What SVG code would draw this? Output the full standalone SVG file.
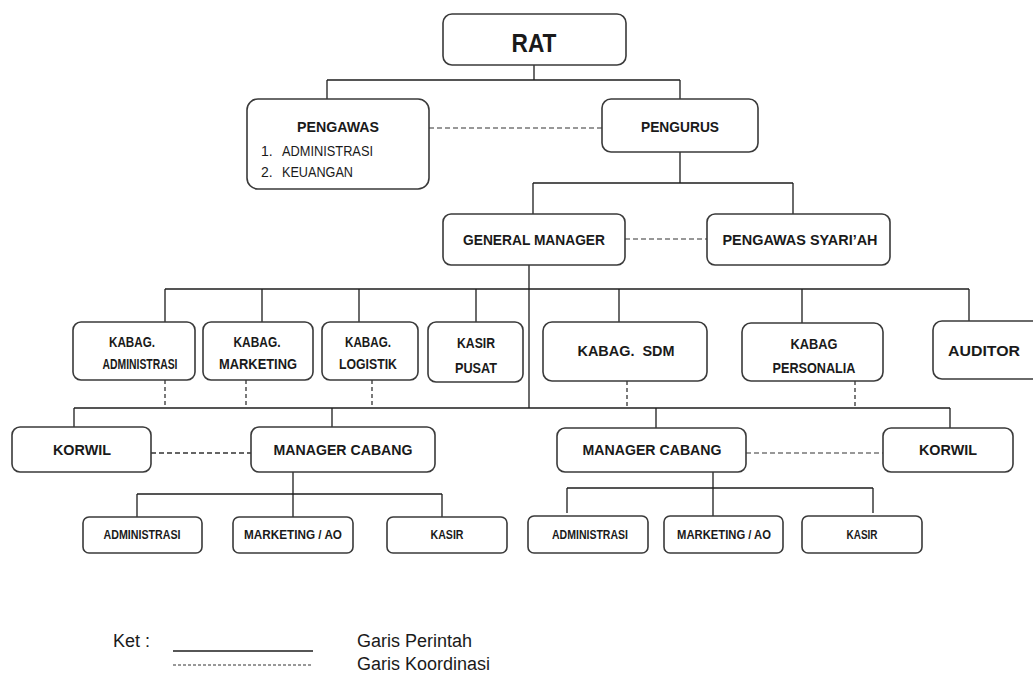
<svg xmlns="http://www.w3.org/2000/svg" width="1033" height="682" viewBox="0 0 1033 682">
<style>
.box{fill:#fff;stroke:#3a3a3a;stroke-width:1.6}
.ln{fill:none;stroke:#1e1e1e;stroke-width:1.3}
.dl{fill:none;stroke:#777;stroke-width:1.6;stroke-dasharray:5 3}
.dk{fill:none;stroke:#333;stroke-width:1.4;stroke-dasharray:5 3}
.dv{fill:none;stroke:#222;stroke-width:1.2;stroke-dasharray:4 3}
text{font-family:"Liberation Sans",Arial,sans-serif;fill:#1a1a1a}
.b{font-weight:bold;text-anchor:middle}
.m{font-size:15px}
.s{font-size:14px}
.xs{font-size:12px}
.r{font-size:14px}
.lg{font-size:18px}
</style>
<rect x="0" y="0" width="1033" height="682" fill="#fff"/>
<g id="connectors">
<path class="ln" d="M534 65V80M327 80H680M327 80V99M680 80V100"/>
<path class="ln" d="M680 152V183M533 183H793M533 183V214M793 183V214"/>
<path class="ln" d="M529 265V408M165 289H969M165 289V322M262 289V322M359 289V322M476 289V322M619 289V322M802 289V323M969 289V321"/>
<path class="ln" d="M74 408H950M74 408V427M332 408V427M656 408V428M950 408V428"/>
<path class="ln" d="M293 472V517M137 494H442M137 494V517M442 494V517"/>
<path class="ln" d="M713 472V516M567 488H873M567 488V513M873 488V513"/>
<path class="dv" d="M165 380V408M246 380V408M372 380V408M627 381V408M855 381V408"/>
<path class="dl" d="M429 128H602M625 239H707M746 453H883"/>
<path class="dk" d="M151 453H251"/>
</g>
<g id="rat"><rect class="box" x="443" y="14" width="183" height="51" rx="9"/><text class="b" x="534" y="52" font-size="26" textLength="45" lengthAdjust="spacingAndGlyphs">RAT</text></g>
<g id="pengawas"><rect class="box" x="247" y="99" width="182" height="90" rx="11"/><text class="b m" x="338" y="132" textLength="82" lengthAdjust="spacingAndGlyphs">PENGAWAS</text>
<text class="r" y="156"><tspan x="261">1.</tspan><tspan x="282" textLength="91" lengthAdjust="spacingAndGlyphs">ADMINISTRASI</tspan></text>
<text class="r" y="177"><tspan x="261">2.</tspan><tspan x="282" textLength="71" lengthAdjust="spacingAndGlyphs">KEUANGAN</tspan></text></g>
<g id="pengurus"><rect class="box" x="602" y="99" width="156" height="53" rx="9"/><text class="b m" x="680" y="132" textLength="78" lengthAdjust="spacingAndGlyphs">PENGURUS</text></g>
<g id="gm"><rect class="box" x="443" y="214" width="182" height="51" rx="8"/><text class="b m" x="534" y="245" textLength="142" lengthAdjust="spacingAndGlyphs">GENERAL MANAGER</text></g>
<g id="syariah"><rect class="box" x="707" y="214" width="183" height="51" rx="8"/><text class="b m" x="800" y="245" textLength="155" lengthAdjust="spacingAndGlyphs">PENGAWAS SYARI’AH</text></g>
<g id="kabag-adm"><rect class="box" x="73" y="322" width="122" height="58" rx="8"/><text class="b s" x="132" y="347" textLength="46" lengthAdjust="spacingAndGlyphs">KABAG.</text><text class="b s" x="140" y="369" textLength="75" lengthAdjust="spacingAndGlyphs">ADMINISTRASI</text></g>
<g id="kabag-mkt"><rect class="box" x="203" y="322" width="110" height="58" rx="8"/><text class="b s" x="257" y="347" textLength="47" lengthAdjust="spacingAndGlyphs">KABAG.</text><text class="b s" x="258" y="369" textLength="78" lengthAdjust="spacingAndGlyphs">MARKETING</text></g>
<g id="kabag-log"><rect class="box" x="322" y="322" width="96" height="58" rx="8"/><text class="b s" x="368" y="347" textLength="46" lengthAdjust="spacingAndGlyphs">KABAG.</text><text class="b s" x="368" y="369" textLength="58" lengthAdjust="spacingAndGlyphs">LOGISTIK</text></g>
<g id="kasir-pusat"><rect class="box" x="428" y="322" width="95" height="60" rx="8"/><text class="b s" x="476" y="348" textLength="38" lengthAdjust="spacingAndGlyphs">KASIR</text><text class="b s" x="476" y="373" textLength="42" lengthAdjust="spacingAndGlyphs">PUSAT</text></g>
<g id="kabag-sdm"><rect class="box" x="543" y="322" width="164" height="59" rx="9"/><text class="b m" x="626" y="356" xml:space="preserve" textLength="97" lengthAdjust="spacingAndGlyphs">KABAG.  SDM</text></g>
<g id="kabag-pers"><rect class="box" x="742" y="323" width="141" height="58" rx="9"/><text class="b s" x="814" y="349" textLength="47" lengthAdjust="spacingAndGlyphs">KABAG</text><text class="b s" x="814" y="373" textLength="83" lengthAdjust="spacingAndGlyphs">PERSONALIA</text></g>
<g id="auditor"><rect class="box" x="933" y="321" width="120" height="58" rx="9"/><text class="b" x="984" y="356" font-size="15.5" textLength="72" lengthAdjust="spacingAndGlyphs">AUDITOR</text></g>
<g id="korwil-l"><rect class="box" x="12" y="427" width="139" height="45" rx="8"/><text class="b m" x="82" y="455" textLength="58" lengthAdjust="spacingAndGlyphs">KORWIL</text></g>
<g id="mc-l"><rect class="box" x="251" y="427" width="184" height="45" rx="8"/><text class="b m" x="343" y="455" textLength="139" lengthAdjust="spacingAndGlyphs">MANAGER CABANG</text></g>
<g id="mc-r"><rect class="box" x="557" y="428" width="189" height="44" rx="8"/><text class="b m" x="652" y="455" textLength="139" lengthAdjust="spacingAndGlyphs">MANAGER CABANG</text></g>
<g id="korwil-r"><rect class="box" x="883" y="428" width="130" height="44" rx="8"/><text class="b m" x="948" y="455" textLength="58" lengthAdjust="spacingAndGlyphs">KORWIL</text></g>
<g id="adm-l"><rect class="box" x="83" y="517" width="119" height="36" rx="6"/><text class="b xs" x="142" y="539" textLength="77" lengthAdjust="spacingAndGlyphs">ADMINISTRASI</text></g>
<g id="mkt-l"><rect class="box" x="233" y="517" width="120" height="36" rx="6"/><text class="b xs" x="293" y="539" textLength="98" lengthAdjust="spacingAndGlyphs">MARKETING / AO</text></g>
<g id="kasir-l"><rect class="box" x="387" y="517" width="120" height="36" rx="6"/><text class="b xs" x="447" y="539" textLength="33" lengthAdjust="spacingAndGlyphs">KASIR</text></g>
<g id="adm-r"><rect class="box" x="528" y="516" width="120" height="37" rx="6"/><text class="b xs" x="590" y="539" textLength="76" lengthAdjust="spacingAndGlyphs">ADMINISTRASI</text></g>
<g id="mkt-r"><rect class="box" x="664" y="516" width="119" height="37" rx="6"/><text class="b xs" x="724" y="539" textLength="94" lengthAdjust="spacingAndGlyphs">MARKETING / AO</text></g>
<g id="kasir-r"><rect class="box" x="802" y="516" width="120" height="37" rx="6"/><text class="b xs" x="862" y="539" textLength="31" lengthAdjust="spacingAndGlyphs">KASIR</text></g>
<g id="legend">
<text class="lg" x="113" y="647">Ket :</text>
<path class="ln" d="M173 651H313"/>
<text class="lg" x="357" y="647">Garis Perintah</text>
<path d="M173 665H313" fill="none" stroke="#333" stroke-width="1" stroke-dasharray="3 2"/>
<text class="lg" x="357" y="670">Garis Koordinasi</text>
</g>
</svg>
